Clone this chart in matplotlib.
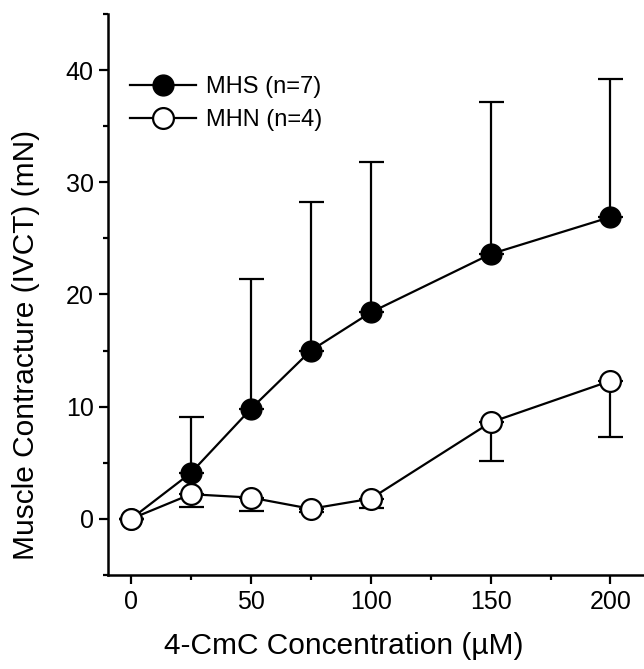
import matplotlib.pyplot as plt
import numpy as np

plt.rcParams['font.family'] = ['Liberation Sans', 'DejaVu Sans']

conc = np.array([0, 25, 50, 75, 100, 150, 200])
mhs = np.array([0, 4.1, 9.8, 15.0, 18.4, 23.6, 26.9])
mhs_upper = np.array([0, 9.1, 21.4, 28.2, 31.8, 37.2, 39.2])
mhn = np.array([0, 2.2, 1.9, 0.9, 1.8, 8.6, 12.3])
mhn_lower = np.array([0, 1.1, 0.7, 0.6, 1.0, 5.2, 7.3])

fig = plt.figure(figsize=(6.44, 6.69), dpi=100)
ax = fig.add_axes([0.168, 0.1405, 0.832, 0.8386])

mhs_err = [np.zeros_like(mhs), mhs_upper - mhs]
mhn_err = [mhn - mhn_lower, np.zeros_like(mhn)]

c1 = ax.errorbar(conc, mhs, yerr=mhs_err, fmt='-o', color='black', lw=1.6,
                 ms=15, mfc='black', mec='black', ecolor='black', elinewidth=1.6,
                 capsize=9, capthick=1.6, zorder=3)
c2 = ax.errorbar(conc, mhn, yerr=mhn_err, fmt='-o', color='black', lw=1.6,
                 ms=15, mfc='white', mec='black', mew=1.6, ecolor='black',
                 elinewidth=1.6, capsize=9, capthick=1.6, zorder=3)

ax.set_xlim(-9.5, 214)
ax.set_ylim(-5, 45)
ax.set_xticks([0, 50, 100, 150, 200])
ax.set_xticks([25, 75, 125, 175], minor=True)
ax.set_yticks([0, 10, 20, 30, 40])
ax.set_yticks([-5, 5, 15, 25, 35, 45], minor=True)
ax.spines['top'].set_visible(False)
ax.spines['right'].set_visible(False)
ax.spines['left'].set_linewidth(1.8)
ax.spines['bottom'].set_linewidth(1.8)
ax.tick_params(which='major', length=6.5, width=1.6, labelsize=18, pad=4)
ax.tick_params(which='minor', length=3.8, width=1.6)

ax.set_xlabel('4-CmC Concentration (\u00b5M)', fontsize=21.5)
ax.set_ylabel('Muscle Contracture (IVCT) (mN)', fontsize=21.5)
ax.xaxis.set_label_coords(0.44, -0.102)
ax.yaxis.set_label_coords(-0.127, 0.41)

ax.legend([c1.lines[0], c2.lines[0]], ['MHS (n=7)', 'MHN (n=4)'],
          loc='upper left', bbox_to_anchor=(0.041, 0.889), borderpad=0,
          borderaxespad=0, frameon=False, fontsize=17, handlelength=2.8,
          handletextpad=0.4, labelspacing=0.45, numpoints=1)

fig.savefig('out.png', dpi=100)
